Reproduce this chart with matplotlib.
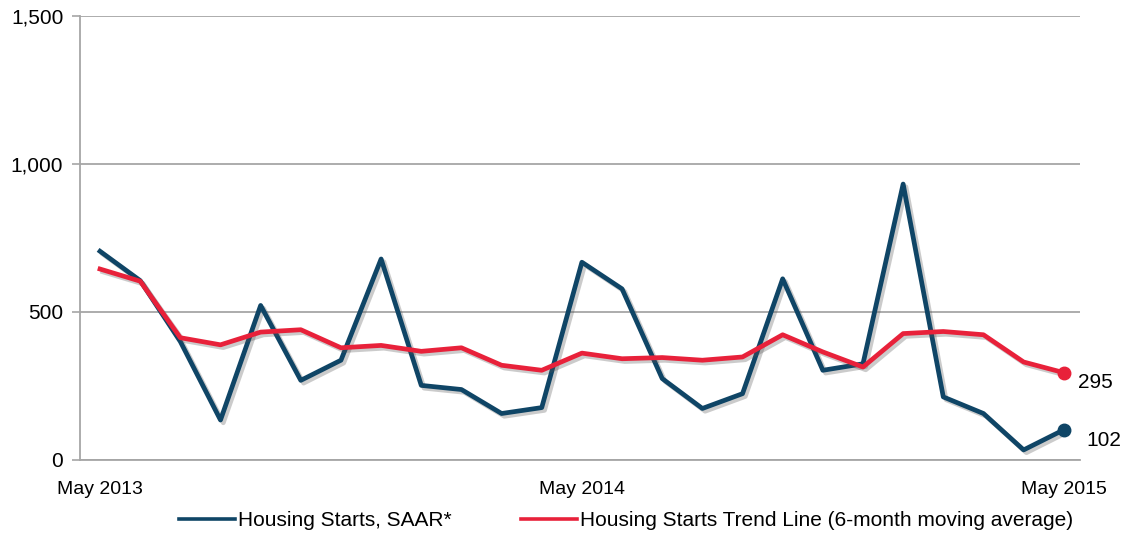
import numpy as np
import matplotlib
matplotlib.use('Agg')
import matplotlib.pyplot as plt
import matplotlib.patheffects as pe
from matplotlib.lines import Line2D

plt.rcParams['font.family'] = ['Liberation Sans', 'DejaVu Sans']

# monthly data, May 2013 .. May 2015
months = np.arange(25)
starts = [705, 606, 400, 135, 522, 269, 337, 679, 252, 238, 157, 177,
          668, 578, 275, 174, 224, 612, 303, 325, 932, 213, 157, 34, 102]
trend = [645, 604, 413, 389, 432, 440, 379, 387, 367, 379, 320, 303,
         361, 342, 346, 337, 348, 423, 365, 314, 427, 434, 423, 331, 295]
tick_pos = [0, 12, 24]
tick_labels = ['May 2013', 'May 2014', 'May 2015']
y_ticks = [0, 500, 1000, 1500]
y_labels = ['0', '500', '1,000', '1,500']

blue = '#0f4566'
red = '#e8213a'
grid_c = '#a6a6a6'

fig = plt.figure(figsize=(11.26, 5.37), dpi=100)
ax = fig.add_axes([0.071, 0.1434, 0.888, 0.827])

shadow = [pe.SimpleLineShadow(offset=(2, -2), alpha=0.3, shadow_color='#555555'), pe.Normal()]

ax.plot(months, starts, color=blue, lw=3.4, path_effects=shadow, zorder=3)
ax.plot(months, trend, color=red, lw=3.4, path_effects=shadow, zorder=4)

ax.plot(months[-1], starts[-1], 'o', color=blue, ms=9, zorder=5)
ax.plot(months[-1], trend[-1], 'o', color=red, ms=9, zorder=5)
ax.annotate(str(starts[-1]), (months[-1], starts[-1]), xytext=(16, -8),
            textcoords='offset points', fontsize=15, va='center')
ax.annotate(str(trend[-1]), (months[-1], trend[-1]), xytext=(10, -7),
            textcoords='offset points', fontsize=15, va='center')

ax.set_xlim(-0.5, 24.4)
ax.set_ylim(0, 1500)
ax.set_yticks(y_ticks)
ax.set_yticklabels(y_labels)
ax.set_xticks(tick_pos)
ax.set_xticklabels(tick_labels)
ax.tick_params(axis='x', length=0, pad=15, labelsize=14)
ax.tick_params(axis='y', length=6, width=1.2, color=grid_c, pad=6, labelsize=15)
ax.grid(axis='y', color=grid_c, lw=1.3)
ax.set_axisbelow(True)
for s in ['top', 'right']:
    ax.spines[s].set_visible(False)
for s in ['left', 'bottom']:
    ax.spines[s].set_color(grid_c)
    ax.spines[s].set_linewidth(1.3)

handles = [Line2D([], [], color=blue, lw=2.6), Line2D([], [], color=red, lw=2.6)]
fig.legend(handles, ['Housing Starts, SAAR*',
                     'Housing Starts Trend Line (6-month moving average)'],
           loc='center', bbox_to_anchor=(0.556, 0.030), ncol=2, frameon=False,
           fontsize=15, handlelength=2.7, handletextpad=0.15, columnspacing=3.3)

fig.savefig('out.png', dpi=100)
